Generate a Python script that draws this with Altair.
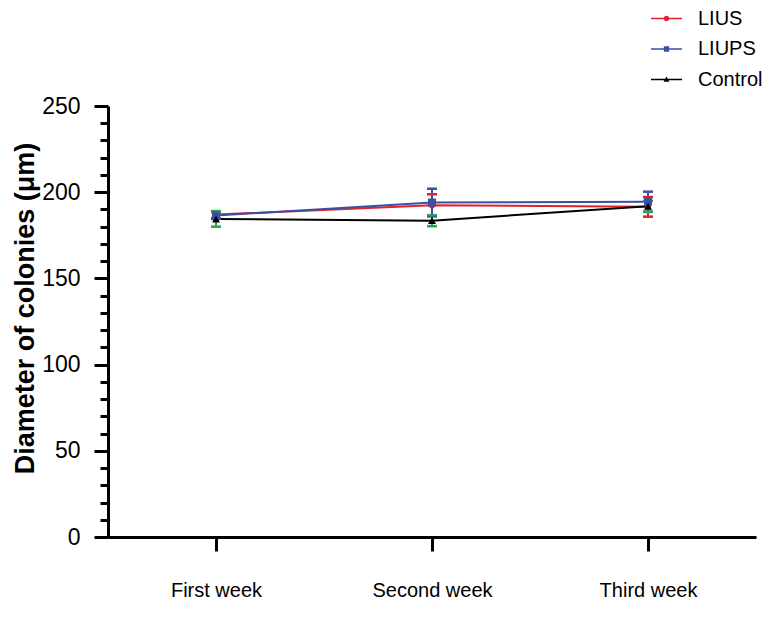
import altair as alt
import pandas as pd

weeks = ["First week", "Second week", "Third week"]
series_names = ["LIUS", "LIUPS", "Control"]
lius = [187.0, 192.5, 191.5]
lius_err = [2.0, 6.3, 5.7]
liups = [186.5, 194.0, 194.5]
liups_err = [2.0, 8.0, 5.8]
control = [184.5, 183.5, 191.8]
control_err = [4.5, 3.2, 3.2]

line_colors = ["#e3222b", "#3a50a3", "#000000"]
err_colors = {"LIUS": "#e3222b", "LIUPS": "#3a50a3", "Control": "#22a84a"}

rows = []
for name, vals, errs in [("LIUS", lius, lius_err), ("LIUPS", liups, liups_err), ("Control", control, control_err)]:
    for w, v, e in zip(weeks, vals, errs):
        rows.append({"week": w, "series": name, "value": v, "lo": v - e, "hi": v + e,
                     "ecolor": err_colors[name]})
df = pd.DataFrame(rows)

FONT = "Liberation Sans"

x_axis = alt.Axis(title=None, labelAngle=0, labelFontSize=20, labelFont=FONT,
                  labelColor="#000", tickSize=14, tickWidth=3, tickColor="#000",
                  domainWidth=3, domainColor="#000", labelPadding=29, labelBaseline="top")
x_scale = alt.Scale(type="point", domain=weeks, padding=0.5)
y_scale = alt.Scale(domain=[0, 250], nice=False, zero=True)
y_axis = alt.Axis(title="Diameter of colonies (μm)", titleFontSize=27, titleFont=FONT,
                  titleFontWeight="bold", titleColor="#000", titleX=-69, titleY=202,
                  titleBaseline="bottom", titleAngle=270,
                  values=list(range(0, 251, 10)),
                  labelExpr="datum.value % 50 === 0 ? datum.label : ''",
                  labelFontSize=23, labelFont=FONT, labelColor="#000", labelPadding=14,
                  tickSize={"condition": {"test": "datum.value % 50 === 0", "value": 14}, "value": 8},
                  tickWidth=3, tickColor="#000", domainWidth=3, domainColor="#000", grid=False)
color_scale = alt.Scale(domain=series_names, range=line_colors)


def X():
    return alt.X("week:N", scale=x_scale, axis=x_axis)


def Y(field):
    return alt.Y(field, scale=y_scale, axis=y_axis)


base = alt.Chart(df)

bar = "M-1,-0.05 H1 V0.05 H-1 Z "
shape_paths = [
    bar + "M-0.18,0 A0.18,0.18 0 1,1 0.18,0 A0.18,0.18 0 1,1 -0.18,0 Z",
    bar + "M-0.17,-0.17 H0.17 V0.17 H-0.17 Z",
    bar + "M0,-0.2 L0.19,0.14 L-0.19,0.14 Z",
]
leg = alt.Legend(title=None, orient="none", legendX=543, legendY=-103,
                 labelFontSize=20, labelFont=FONT, labelColor="#000",
                 symbolSize=961, symbolStrokeWidth=0, symbolOpacity=1,
                 labelOffset=16, rowPadding=4.5)

legend_layer = base.transform_filter("false").mark_point(filled=True, size=961, opacity=1).encode(
    x=X(), y=Y("value:Q"),
    color=alt.Color("series:N", scale=color_scale, legend=leg),
    shape=alt.Shape("series:N", scale=alt.Scale(domain=series_names, range=shape_paths), legend=leg),
)

lines = base.mark_line(strokeWidth=2).encode(
    x=X(), y=Y("value:Q"),
    color=alt.Color("series:N", scale=color_scale, legend=None),
    detail="series:N",
)

err_rules = base.mark_rule(strokeWidth=2).encode(
    x=X(), y=Y("lo:Q"), y2="hi:Q",
    color=alt.Color("ecolor:N", scale=None),
)
caps_lo = base.mark_tick(size=10, thickness=2.5, opacity=1).encode(
    x=X(), y=Y("lo:Q"), color=alt.Color("ecolor:N", scale=None))
caps_hi = base.mark_tick(size=10, thickness=2.5, opacity=1).encode(
    x=X(), y=Y("hi:Q"), color=alt.Color("ecolor:N", scale=None))

pts = []
for name, shp, sz in [("LIUS", "circle", 40), ("LIUPS", "square", 64), ("Control", "triangle-up", 64)]:
    pts.append(base.transform_filter(alt.datum.series == name).mark_point(
        filled=True, shape=shp, size=sz, opacity=1).encode(
        x=X(), y=Y("value:Q"),
        color=alt.Color("series:N", scale=color_scale, legend=None)))

chart = alt.layer(legend_layer, lines, err_rules, caps_lo, caps_hi, *pts).properties(
    width=648, height=431,
    autosize=alt.AutoSizeParams(type="none"),
    padding={"left": 100, "top": 98, "right": 7, "bottom": 64},
).configure(font=FONT).configure_view(stroke=None)

chart.save("out.html", embed_options={"renderer": "svg", "actions": False})
